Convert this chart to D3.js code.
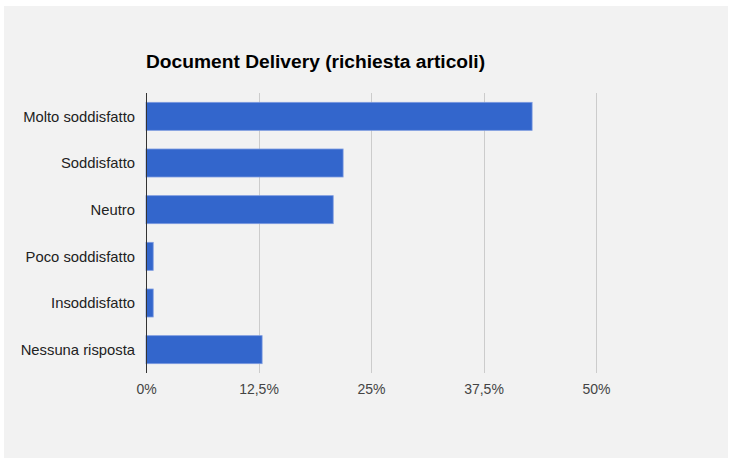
<!DOCTYPE html>
<html>
<head>
<meta charset="utf-8">
<script src="https://cdn.jsdelivr.net/npm/d3@7"></script>
<style>
  html, body { margin: 0; padding: 0; background: #ffffff; }
  svg { display: block; }
  text { font-family: Arial, "Liberation Sans", sans-serif; }
</style>
</head>
<body>
<svg id="chart" width="731" height="459"></svg>
<script>
// Survey answers and share of respondents (%)
const categories = ["Molto soddisfatto", "Soddisfatto", "Neutro", "Poco soddisfatto", "Insoddisfatto", "Nessuna risposta"];
const values = [42.9, 21.9, 20.8, 0.8, 0.8, 12.9];
const tickValues = [0, 12.5, 25, 37.5, 50];
const title = "Document Delivery (richiesta articoli)";

const svg = d3.select("#chart");

// panel background
svg.append("rect")
  .attr("x", 4).attr("y", 6)
  .attr("width", 724).attr("height", 452)
  .attr("fill", "#f2f2f2");

const area = { left: 146, right: 596, top: 93, bottom: 373 };

const x = d3.scaleLinear().domain([0, 50]).range([area.left, area.right]);
const y = d3.scaleBand()
  .domain(categories)
  .range([area.top, area.bottom])
  .paddingInner(0.4)
  .paddingOuter(0.2);

const it = d3.formatLocale({ decimal: ",", thousands: ".", grouping: [3], currency: ["€", ""] });
const fmt = v => it.format("~")(v) + "%";

// vertical gridlines
svg.append("g")
  .selectAll("line")
  .data(tickValues.filter(v => v !== 0))
  .join("line")
  .attr("x1", d => Math.round(x(d)) + 0.5)
  .attr("x2", d => Math.round(x(d)) + 0.5)
  .attr("y1", area.top)
  .attr("y2", area.bottom)
  .attr("stroke", "#cccccc")
  .attr("stroke-width", 1);

// bars
svg.append("g")
  .selectAll("rect")
  .data(categories.map((c, i) => ({ c, v: values[i] })))
  .join("rect")
  .attr("x", x(0))
  .attr("y", d => y(d.c))
  .attr("width", d => x(d.v) - x(0))
  .attr("height", y.bandwidth())
  .attr("fill", "#3366cc")
  .attr("stroke", "#7d9be0")
  .attr("stroke-width", 0.8);

// baseline
svg.append("line")
  .attr("x1", x(0) + 0.5).attr("x2", x(0) + 0.5)
  .attr("y1", area.top).attr("y2", area.bottom)
  .attr("stroke", "#333333")
  .attr("stroke-width", 1);

// x axis labels
const xAxis = d3.axisBottom(x).tickValues(tickValues).tickFormat(fmt).tickSize(0).tickPadding(0);
const gx = svg.append("g")
  .attr("transform", `translate(0,${area.bottom + 21})`)
  .call(xAxis);
gx.select(".domain").remove();
gx.selectAll("text")
  .attr("dy", "0")
  .attr("font-size", 14)
  .attr("font-family", "Arial, 'Liberation Sans', sans-serif")
  .attr("fill", "#444444");

// category labels
const yAxis = d3.axisLeft(y).tickSize(0).tickPadding(0);
const gy = svg.append("g")
  .attr("transform", `translate(${area.left - 11},0)`)
  .call(yAxis);
gy.select(".domain").remove();
gy.selectAll("text")
  .attr("dy", "0.36em")
  .attr("font-size", 14.8)
  .attr("font-family", "Arial, 'Liberation Sans', sans-serif")
  .attr("fill", "#222222");

// title
svg.append("text")
  .attr("x", area.left)
  .attr("y", 68)
  .attr("font-size", 19.2)
  .attr("font-weight", "bold")
  .attr("fill", "#000000")
  .text(title);
</script>
</body>
</html>
